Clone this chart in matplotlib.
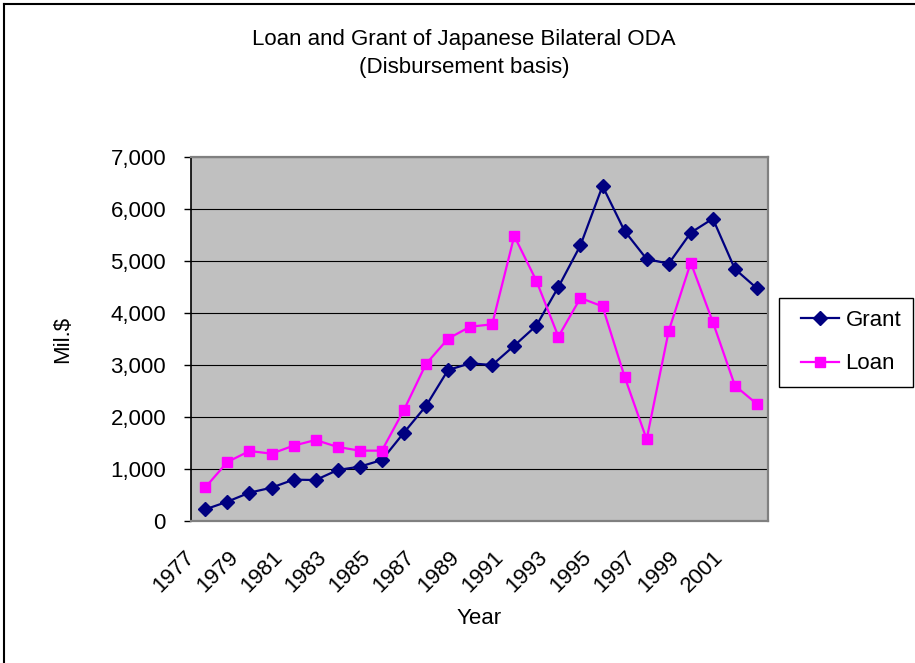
import matplotlib
matplotlib.use("Agg")
import matplotlib.pyplot as plt
from matplotlib.ticker import FuncFormatter, MultipleLocator
from matplotlib.lines import Line2D
from matplotlib.legend_handler import HandlerLine2D

plt.rcParams['font.family'] = ['Liberation Sans', 'DejaVu Sans']

years = list(range(1977, 2003))
grant = [224, 372, 545, 641, 795, 788, 981, 1045, 1173, 1699, 2212, 2904, 3032,
         3000, 3372, 3756, 4500, 5301, 6442, 5577, 5038, 4949, 5545, 5814, 4846, 4474]
loan = [647, 1135, 1346, 1295, 1449, 1558, 1423, 1353, 1353, 2135, 3019, 3506, 3737,
        3782, 5481, 4622, 3545, 4288, 4128, 2776, 1571, 3654, 4968, 3827, 2603, 2250]
tick_years = years[::2]

W, H = 915, 663
fig = plt.figure(figsize=(W / 100, H / 100), dpi=100)

# figure border (left and top visible)
fig.add_artist(Line2D([4 / W, 4 / W], [0, 1 - 4 / H], color='black', lw=1.5,
                      transform=fig.transFigure))
fig.add_artist(Line2D([4 / W, 1], [1 - 4 / H, 1 - 4 / H], color='black', lw=1.5,
                      transform=fig.transFigure))

ax = fig.add_axes([191 / W, 1 - 521 / H, 577 / W, 364 / H])
ax.set_facecolor('#C0C0C0')

x = list(range(len(years)))
l1, = ax.plot(x, grant, color='#000080', marker='D', markersize=6.8, lw=1.6,
              label='Grant', zorder=3)
l2, = ax.plot(x, loan, color='#FF00FF', marker='s', markersize=7.2, lw=1.6,
              label='Loan', zorder=3)

ax.set_xlim(-0.5, len(years) - 0.5)
ax.set_ylim(0, 7000)
ax.yaxis.set_major_locator(MultipleLocator(1000))
ax.yaxis.set_major_formatter(FuncFormatter(lambda v, p: f"{int(v):,}"))
ax.grid(axis='y', color='black', lw=0.8, zorder=1)
ax.set_axisbelow(True)

tick_pos = [years.index(y) - 0.65 for y in tick_years]
ax.set_xticks(tick_pos)
ax.set_xticklabels([str(y) for y in tick_years], rotation=45, ha='right',
                   va='center', rotation_mode='anchor', fontsize=16)
ax.tick_params(axis='x', length=0, pad=24)
ax.tick_params(axis='y', length=5, width=1, direction='out', pad=13, labelsize=16)

for side in ['top', 'right', 'bottom']:
    ax.spines[side].set_color('#808080')
    ax.spines[side].set_linewidth(1.6)
ax.spines['left'].set_color('black')
ax.spines['left'].set_linewidth(1.2)

ax.set_xlabel('Year', fontsize=16)
ax.xaxis.set_label_coords((479 - 191) / 577, (521 - 618) / 364)
ax.xaxis.label.set_va('center')
ax.set_ylabel('Mil.$', fontsize=16)
ax.yaxis.set_label_coords((63 - 191) / 577, 0.5)
ax.yaxis.label.set_va('center')

fig.text(464 / W, 1 - 40 / H, 'Loan and Grant of Japanese Bilateral ODA',
         ha='center', va='center', fontsize=16)
fig.text(464 / W, 1 - 67 / H, '(Disbursement basis)', ha='center', va='center',
         fontsize=16)

leg = fig.legend(handles=[l1, l2], loc='upper left',
                 bbox_to_anchor=(779 / W, 1 - 298 / H),
                 bbox_transform=fig.transFigure, fontsize=16, frameon=True,
                 fancybox=False, edgecolor='black', framealpha=1,
                 handlelength=2.16, handletextpad=0.28, borderpad=0.55,
                 labelspacing=1.0, borderaxespad=0,
                 handler_map={Line2D: HandlerLine2D(xpad=0.45)})
leg.get_frame().set_linewidth(1.0)

fig.savefig('out.png', dpi=100)
